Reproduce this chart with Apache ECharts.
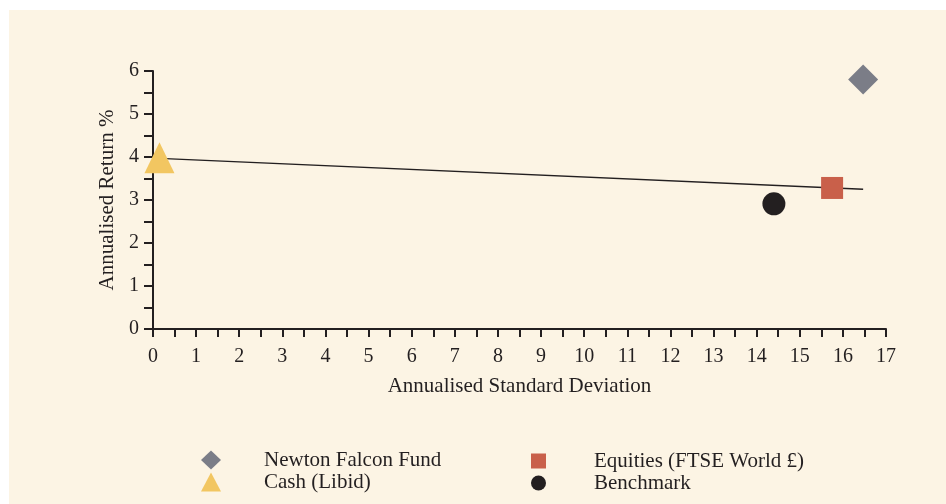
<!DOCTYPE html>
<html>
<head>
<meta charset="utf-8">
<script src="https://cdn.jsdelivr.net/npm/echarts@6/dist/echarts.min.js"></script>
<style>
  html, body { margin: 0; padding: 0; background: #ffffff; }
  #chart { position: absolute; left: 9px; top: 10px; width: 937px; height: 494px; }
</style>
</head>
<body>
<div id="chart"></div>
<script>
// series names and points [std dev, return]
const seriesNames = ['Newton Falcon Fund', 'Equities (FTSE World £)', 'Cash (Libid)', 'Benchmark']
const fundPoint = [16.47, 5.8]
const equitiesPoint = [15.75, 3.28]
const cashPoint = [0.15, 3.98]
const benchmarkPoint = [14.4, 2.91]
// straight line drawn across the chart
const trendLine = [[0.15, 3.97], [16.47, 3.25]]

const FONT = 'Liberation Serif'
const INK = '#231f20'
const FS = 20
const NAME_FS = 21

const chart = echarts.init(document.getElementById('chart'))

// 轴标签只显示整数
const intOnly = (v) => (Number.isInteger(v) ? String(v) : '')

const option = {
  backgroundColor: '#fcf4e4',
  animation: false,
  grid: {
    left: 144,
    right: 60,
    top: 61,
    bottom: 175
  },
  xAxis: {
    type: 'value',
    min: 0,
    max: 17,
    interval: 0.5,
    name: 'Annualised Standard Deviation',
    nameLocation: 'middle',
    nameGap: 47,
    nameTextStyle: { fontFamily: FONT, fontSize: NAME_FS, color: INK },
    axisLine: { lineStyle: { color: INK, width: 2 } },
    axisTick: { length: 8, lineStyle: { color: INK, width: 2 } },
    axisLabel: {
      margin: 18,
      fontFamily: FONT,
      fontSize: FS,
      color: INK,
      formatter: intOnly
    },
    splitLine: { show: false }
  },
  yAxis: {
    type: 'value',
    min: 0,
    max: 6,
    interval: 0.5,
    name: 'Annualised Return %',
    nameLocation: 'middle',
    nameGap: 31,
    nameTextStyle: { fontFamily: FONT, fontSize: NAME_FS, color: INK },
    axisLine: { show: true, lineStyle: { color: INK, width: 2 } },
    axisTick: { show: true, length: 9, lineStyle: { color: INK, width: 2 } },
    axisLabel: {
      margin: 14,
      fontFamily: FONT,
      fontSize: FS,
      color: INK,
      formatter: intOnly
    },
    splitLine: { show: false }
  },
  legend: [
    {
      data: [
        { name: seriesNames[0], icon: 'diamond' },
        { name: seriesNames[2], icon: 'triangle' }
      ],
      orient: 'vertical',
      left: 192,
      top: 437,
      padding: 0,
      itemWidth: 20,
      itemHeight: 19,
      itemGap: -4,
      textStyle: { fontFamily: FONT, fontSize: NAME_FS, color: INK, lineHeight: 20, padding: [6, 0, 0, 38] }
    },
    {
      data: [
        { name: seriesNames[1], icon: 'rect' },
        { name: seriesNames[3], icon: 'circle' }
      ],
      orient: 'vertical',
      left: 522,
      top: 438,
      padding: 0,
      itemWidth: 15,
      itemHeight: 15,
      itemGap: -4,
      textStyle: { fontFamily: FONT, fontSize: NAME_FS, color: INK, lineHeight: 20, padding: [6, 0, 0, 43] }
    }
  ],
  series: [
    {
      type: 'line',
      data: trendLine,
      symbol: 'none',
      silent: true,
      lineStyle: { color: INK, width: 1.3 },
      z: 1
    },
    {
      name: seriesNames[2],
      type: 'scatter',
      data: [cashPoint],
      symbol: 'triangle',
      symbolSize: [30, 31],
      itemStyle: { color: '#f2c661', opacity: 1 },
      z: 2
    },
    {
      name: seriesNames[3],
      type: 'scatter',
      data: [benchmarkPoint],
      symbol: 'circle',
      symbolSize: 23,
      itemStyle: { color: INK, opacity: 1 },
      z: 3
    },
    {
      name: seriesNames[1],
      type: 'scatter',
      data: [equitiesPoint],
      symbol: 'rect',
      symbolSize: 22,
      itemStyle: { color: '#c9604a', opacity: 1 },
      z: 2
    },
    {
      name: seriesNames[0],
      type: 'scatter',
      data: [fundPoint],
      symbol: 'diamond',
      symbolSize: 30,
      itemStyle: { color: '#7b7d87', opacity: 1 },
      z: 3
    }
  ]
}

chart.setOption(option)
</script>
</body>
</html>
